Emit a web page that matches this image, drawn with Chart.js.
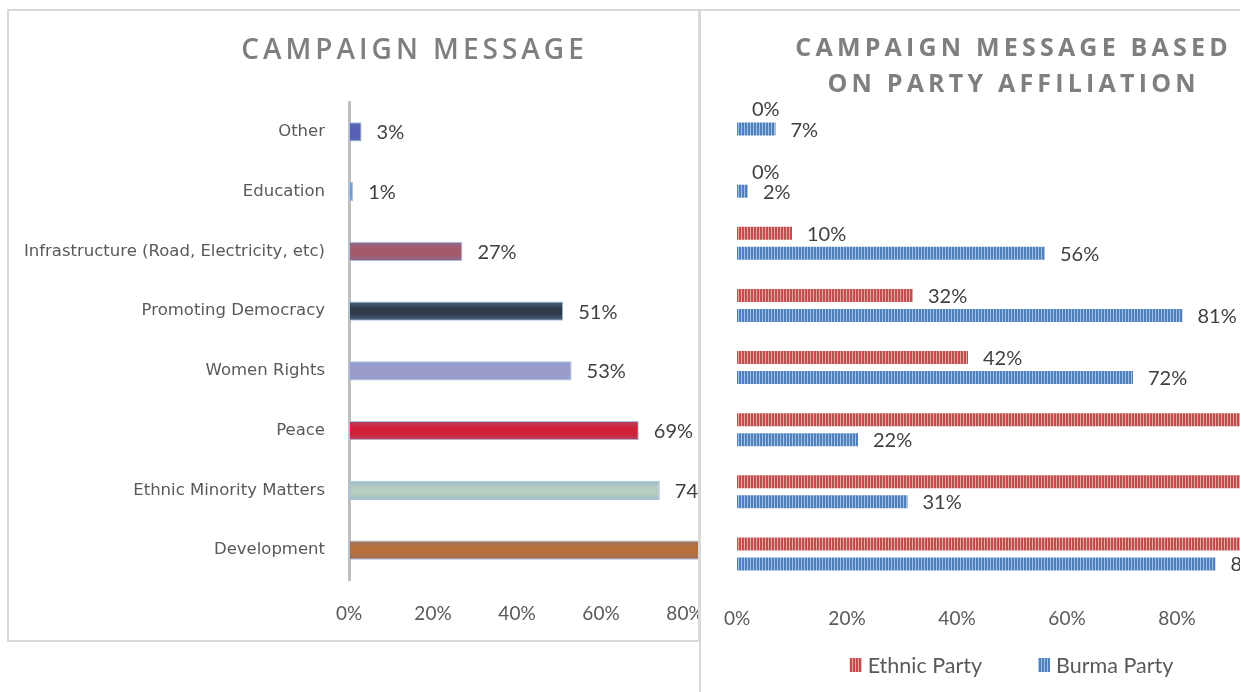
<!DOCTYPE html>
<html>
<head>
<meta charset="utf-8">
<script src="https://cdn.jsdelivr.net/npm/chart.js@4.4.0/dist/chart.umd.min.js"></script>
<style>
  html, body { margin: 0; padding: 0; background: #fff; width: 1249px; height: 692px; overflow: hidden; }
  .clip { position: absolute; top: 0; height: 692px; overflow: hidden; }
  #clipL { left: 0; width: 699px; }
  #clipR { left: 700px; width: 540px; }
  canvas { position: absolute; top: 0; left: 0; }
  .frame { position: absolute; box-sizing: border-box; border: 0 solid #d9d9d9; pointer-events: none; }
  #frameL { left: 7px; top: 9px; width: 693px; height: 633px; border-width: 2px; }
  #frameR { left: 699px; top: 9px; width: 541px; height: 700px; border-width: 2px 0 0 2px; }
</style>
</head>
<body>
<div class="clip" id="clipL"><canvas id="chartL" width="825" height="692"></canvas></div>
<div class="clip" id="clipR"><canvas id="chartR" width="623" height="692"></canvas></div>
<div class="frame" id="frameL"></div>
<div class="frame" id="frameR"></div>
<script>
// Campaign message categories, listed top to bottom
const messageCategories = [
  'Other',
  'Education',
  'Infrastructure (Road, Electricity, etc)',
  'Promoting Democracy',
  'Women Rights',
  'Peace',
  'Ethnic Minority Matters',
  'Development'
];

// Share of all candidates mentioning each message (%)
const overallShare = [3, 1, 27, 51, 53, 69, 74, 95];

// Share by party affiliation (%)
const ethnicPartyShare = [0, 0, 10, 32, 42, 100, 100, 100];
const burmaPartyShare = [7, 2, 56, 81, 72, 22, 31, 87];

const seriesNames = ['Ethnic Party', 'Burma Party'];
const percentTickStep = 20;

// Bar colours for the overall chart: saturated middle, softer edge
const barCoreColors = ['#5860b5', '#6a9ad6', '#a5596b', '#2f3b4c', '#9d9bc9', '#d01f36', '#b6ccc0', '#b8703c'];
const barEdgeColors = ['#5a68b8', '#7aa6da', '#8c6a8c', '#4a6480', '#8f9fcf', '#b44560', '#9fbdca', '#9a7263'];

const TEXT_DARK = '#404040';
const TEXT_MID = '#595959';
const TITLE_GREY = '#7f7f7f';

// Title drawn with letter spacing
const spacedTitle = {
  id: 'spacedTitle',
  afterDraw(chart, args, opts) {
    const ctx = chart.ctx;
    ctx.save();
    ctx.font = opts.font;
    ctx.fillStyle = opts.color;
    ctx.textAlign = 'center';
    ctx.textBaseline = 'middle';
    ctx.letterSpacing = opts.spacing + 'px';
    opts.lines.forEach((line, k) => {
      ctx.fillText(line, chart.width / 2 + opts.spacing / 2, opts.top + k * opts.lineGap);
    });
    ctx.restore();
  }
};

// Value labels just past the end of each bar
const valueLabels = {
  id: 'valueLabels',
  afterDatasetsDraw(chart, args, opts) {
    const ctx = chart.ctx;
    ctx.save();
    ctx.font = opts.font;
    ctx.fillStyle = opts.color;
    ctx.textAlign = 'left';
    ctx.textBaseline = 'middle';
    chart.data.datasets.forEach((ds, di) => {
      const meta = chart.getDatasetMeta(di);
      meta.data.forEach((bar, i) => {
        ctx.fillText(ds.data[i] + '%', bar.x + opts.offset, bar.y + 1);
      });
    });
    ctx.restore();
  }
};

// Legend row centred under the plot
const centredLegend = {
  id: 'centredLegend',
  afterDraw(chart, args, opts) {
    const ctx = chart.ctx;
    ctx.save();
    ctx.font = opts.font;
    ctx.textBaseline = 'middle';
    ctx.textAlign = 'left';
    const items = chart.data.datasets.map(ds => ({ text: ds.label, fill: ds.backgroundColor }));
    const widths = items.map(it => opts.box + opts.boxGap + ctx.measureText(it.text).width);
    const total = widths.reduce((a, b) => a + b, 0) + opts.itemGap * (items.length - 1);
    let x = chart.width / 2 - total / 2;
    const y = opts.y;
    items.forEach((it, k) => {
      ctx.fillStyle = it.fill;
      ctx.fillRect(x, y - opts.boxH / 2, opts.box, opts.boxH);
      ctx.fillStyle = opts.color;
      ctx.fillText(it.text, x + opts.box + opts.boxGap, y + 1);
      x += widths[k] + opts.itemGap;
    });
    ctx.restore();
  }
};

function pct(v) { return v + '%'; }

// Keep the value axis exactly inside the layout padding
function fixValueAxis(height) {
  return s => {
    s.height = height;
    s.paddingLeft = 0;
    s.paddingRight = 0;
  };
}

// ---------- Overall chart ----------
const ctxL = document.getElementById('chartL').getContext('2d');

function glowFill(context) {
  const i = context.dataIndex;
  const chart = context.chart;
  if (i === undefined || !chart.chartArea) return barCoreColors[0];
  const yScale = chart.scales.y;
  const yc = yScale.getPixelForValue(i);
  const band = (chart.chartArea.bottom - chart.chartArea.top) / messageCategories.length;
  const half = band * 0.32 / 2;
  const g = chart.ctx.createLinearGradient(0, yc - half, 0, yc + half);
  g.addColorStop(0, barEdgeColors[i]);
  g.addColorStop(0.35, barCoreColors[i]);
  g.addColorStop(0.65, barCoreColors[i]);
  g.addColorStop(1, barEdgeColors[i]);
  return g;
}

new Chart(ctxL, {
  type: 'bar',
  data: {
    labels: messageCategories,
    datasets: [{
      label: 'All candidates',
      data: overallShare,
      backgroundColor: glowFill,
      borderColor: '#a9c0de',
      borderWidth: 1,
      borderSkipped: false,
      barPercentage: 0.32,
      categoryPercentage: 1
    }]
  },
  options: {
    indexAxis: 'y',
    responsive: false,
    animation: false,
    devicePixelRatio: 1,
    layout: { padding: { top: 102, right: 56, left: 0, bottom: 0 } },
    scales: {
      x: {
        min: 0, max: 100,
        ticks: { stepSize: percentTickStep, callback: pct, color: TEXT_MID, font: { family: 'Lato', size: 19 }, padding: 22 },
        grid: { display: false, drawTicks: false },
        border: { display: false },
        afterFit: fixValueAxis(112)
      },
      y: {
        ticks: { color: TEXT_MID, font: { family: 'DejaVu Sans', size: 16.5 }, padding: 24 },
        grid: { display: false, drawTicks: false },
        border: { display: true, color: '#bfbfbf', width: 3 },
        afterFit: s => { s.width = 349; }
      }
    },
    plugins: {
      legend: { display: false },
      tooltip: { enabled: false },
      spacedTitle: { lines: ['CAMPAIGN MESSAGE'], font: '600 28px "Open Sans"', color: TITLE_GREY, spacing: 4, top: 51, lineGap: 0 },
      valueLabels: { font: '20px Lato', color: TEXT_DARK, offset: 15 }
    }
  },
  plugins: [spacedTitle, valueLabels]
});

// ---------- By party affiliation ----------
const ctxR = document.getElementById('chartR').getContext('2d');

function stripes(dark, light) {
  const c = document.createElement('canvas');
  c.width = 3; c.height = 1;
  const g = c.getContext('2d');
  g.fillStyle = dark; g.fillRect(0, 0, 2, 1);
  g.fillStyle = light; g.fillRect(2, 0, 1, 1);
  return ctxR.createPattern(c, 'repeat');
}

const ethnicFill = stripes('#c0504d', '#e7a3a1');
const burmaFill = stripes('#4f81bd', '#a2c0e6');

new Chart(ctxR, {
  type: 'bar',
  data: {
    labels: messageCategories,
    datasets: [
      { label: seriesNames[0], data: ethnicPartyShare, backgroundColor: ethnicFill, barPercentage: 0.65, categoryPercentage: 0.645 },
      { label: seriesNames[1], data: burmaPartyShare, backgroundColor: burmaFill, barPercentage: 0.65, categoryPercentage: 0.645 }
    ]
  },
  options: {
    indexAxis: 'y',
    responsive: false,
    animation: false,
    devicePixelRatio: 1,
    layout: { padding: { top: 88, right: 36, left: 37, bottom: 47 } },
    scales: {
      x: {
        min: 0, max: 100,
        ticks: { stepSize: percentTickStep, callback: pct, color: TEXT_MID, font: { family: 'Lato', size: 19 }, padding: 22 },
        grid: { display: false, drawTicks: false },
        border: { display: false },
        afterFit: fixValueAxis(60)
      },
      y: { display: false }
    },
    plugins: {
      legend: { display: false },
      tooltip: { enabled: false },
      spacedTitle: { lines: ['CAMPAIGN MESSAGE BASED', 'ON PARTY AFFILIATION'], font: 'bold 25px "Open Sans"', color: TITLE_GREY, spacing: 4.2, top: 49, lineGap: 36 },
      valueLabels: { font: '20px Lato', color: TEXT_DARK, offset: 15 },
      centredLegend: { font: '21.5px Lato', color: TEXT_MID, box: 12, boxH: 14, boxGap: 6, itemGap: 56, y: 665 }
    }
  },
  plugins: [spacedTitle, valueLabels, centredLegend]
});
</script>
</body>
</html>
